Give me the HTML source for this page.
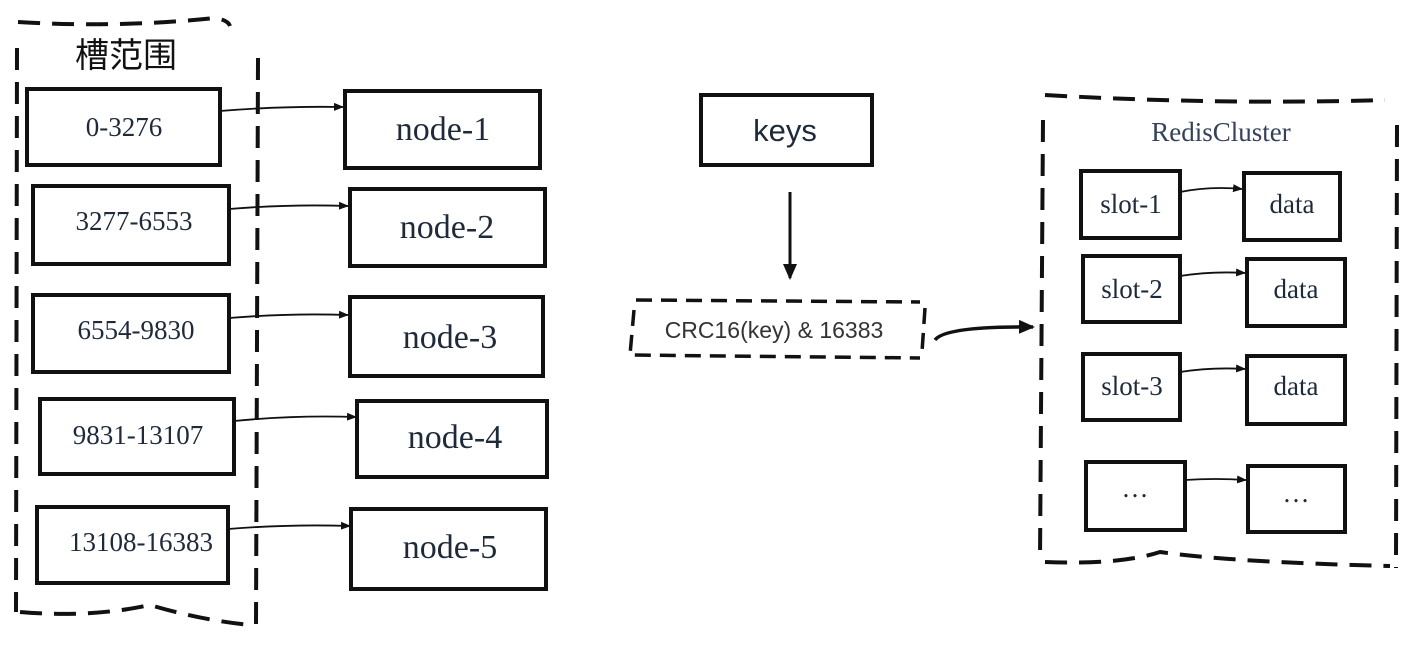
<!DOCTYPE html>
<html><head><meta charset="utf-8"><style>
body{margin:0;background:#fff;width:1423px;height:647px;overflow:hidden}
svg text{fill:#1e2a3a}
.s{font-family:"Liberation Serif",serif}
.a{font-family:"Liberation Sans",sans-serif}
</style></head><body>
<svg width="1423" height="647" viewBox="0 0 1423 647" xmlns="http://www.w3.org/2000/svg">
<defs><marker id="m" markerWidth="10" markerHeight="8" refX="9" refY="4" orient="auto" markerUnits="userSpaceOnUse"><path d="M0,0 L10,4 L0,8 z" fill="#111"/></marker>
<marker id="M" markerWidth="16" markerHeight="14" refX="14" refY="7" orient="auto" markerUnits="userSpaceOnUse"><path d="M0,0 L16,7 L0,14 z" fill="#111"/></marker></defs>
<g fill="none" stroke="#111" stroke-width="4" stroke-dasharray="22,12">
<path d="M18,22 Q120,28 215,18 Q228,20 230,26"/>
<path d="M17,48 L16,612"/>
<path d="M258,58 L256,625"/>
<path d="M20,612 Q90,618 150,605 Q200,620 250,625"/>
<path d="M1045,95 Q1220,105 1385,100"/>
<path d="M1043,120 L1040,560"/>
<path d="M1397,125 L1396,568"/>
<path d="M1045,562 Q1120,565 1160,552 Q1230,562 1390,566"/>
<path d="M636,300 L920,302 M634,310 L630,355 L920,358 M925,308 L922,352" stroke-width="3.5" stroke-dasharray="16,9"/>
</g>
<g fill="none" stroke="#111" stroke-width="4">
<rect x="27" y="89" width="193" height="76"/>
<rect x="33" y="186" width="196" height="78"/>
<rect x="33" y="295" width="196" height="77"/>
<rect x="40" y="399" width="194" height="75"/>
<rect x="37" y="507" width="191" height="76"/>
<rect x="345" y="91" width="195" height="77"/>
<rect x="350" y="189" width="195" height="77"/>
<rect x="350" y="297" width="193" height="79"/>
<rect x="357" y="401" width="190" height="76"/>
<rect x="351" y="509" width="195" height="80"/>
<rect x="701" y="95" width="171" height="70"/>
<rect x="1081" y="171" width="99" height="67"/>
<rect x="1244" y="173" width="96" height="67"/>
<rect x="1083" y="256" width="97" height="66"/>
<rect x="1247" y="259" width="98" height="67"/>
<rect x="1083" y="354" width="97" height="66"/>
<rect x="1247" y="356" width="98" height="68"/>
<rect x="1086" y="462" width="99" height="68"/>
<rect x="1248" y="466" width="97" height="66"/>
</g>
<g fill="none" stroke="#111" stroke-width="1.8" marker-end="url(#m)">
<path d="M220,111 Q280,106 343,107"/>
<path d="M229,209 Q290,204 348,206"/>
<path d="M229,318 Q290,313 348,315"/>
<path d="M234,421 Q295,415 356,417"/>
<path d="M228,529 Q290,524 350,526"/>
<path d="M1180,192 Q1210,186 1242,189"/>
<path d="M1180,276 Q1212,271 1245,273"/>
<path d="M1180,372 Q1212,367 1245,369"/>
<path d="M1185,480 Q1215,478 1246,480"/>
</g>
<path d="M790,192 L790,278" stroke="#111" stroke-width="3" marker-end="url(#M)"/>
<path d="M935,340 Q945,326 1033,327" fill="none" stroke="#111" stroke-width="3.5" marker-end="url(#M)"/>
<text x="126" y="67" font-size="34" text-anchor="middle" font-family="'Liberation Sans','Noto Sans CJK SC',sans-serif" style="fill:#111">槽范围</text>
<g class="s" font-size="27" text-anchor="middle">
<text x="124" y="136">0-3276</text>
<text x="134" y="230">3277-6553</text>
<text x="136" y="339">6554-9830</text>
<text x="138" y="444">9831-13107</text>
<text x="141" y="551">13108-16383</text>
</g>
<g class="s" font-size="34" text-anchor="middle">
<text x="443" y="140">node-1</text>
<text x="447" y="238">node-2</text>
<text x="450" y="348">node-3</text>
<text x="455" y="448">node-4</text>
<text x="450" y="558">node-5</text>
</g>
<text x="785" y="141" class="a" font-size="31" text-anchor="middle">keys</text>
<text x="774" y="338" class="a" font-size="23" text-anchor="middle" style="fill:#333">CRC16(key) &amp; 16383</text>
<text x="1221" y="141" class="s" font-size="27" text-anchor="middle" style="fill:#34415a">RedisCluster</text>
<g class="s" font-size="27" text-anchor="middle">
<text x="1131" y="213">slot-1</text><text x="1292" y="213">data</text>
<text x="1132" y="298">slot-2</text><text x="1296" y="298">data</text>
<text x="1132" y="395">slot-3</text><text x="1296" y="395">data</text>
<text x="1135" y="497">…</text><text x="1296" y="502">…</text>
</g>
</svg>
</body></html>
